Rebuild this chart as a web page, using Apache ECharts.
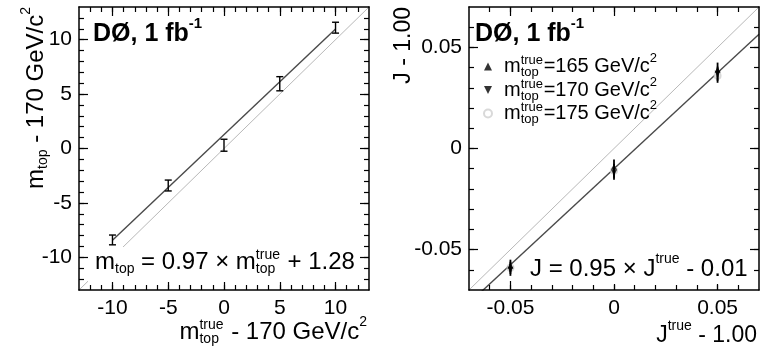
<!DOCTYPE html>
<html><head><meta charset="utf-8">
<script src="https://cdn.jsdelivr.net/npm/echarts@6/dist/echarts.min.js"></script>
<style>html,body{margin:0;padding:0;background:#fff}#c{width:773px;height:353px}</style>
</head><body><div id="c"></div>
<script>
const FONT = '"Liberation Sans", Arial, Helvetica, sans-serif';

// ---- Left panel: m_top calibration ----
const mTrue = [-10, -5, 0, 5, 10];
const mMeas = [-8.4, -3.4, 0.3, 5.95, 11.1];
const mErr = [0.45, 0.5, 0.55, 0.65, 0.5];
const mFitSlope = 0.97, mFitOffset = 1.28;
const mRange = [-13, 13];
const mMajor = [-10, -5, 0, 5, 10];
const mMinor = [-12, -11, -10, -9, -8, -7, -6, -5, -4, -3, -2, -1, 0, 1, 2, 3, 4, 5, 6, 7, 8, 9, 10, 11, 12];

// ---- Right panel: JES calibration ----
const jTrue = [-0.05, 0, 0.05];
const j165 = [-0.058, -0.009, 0.039];
const j170 = [-0.060, -0.012, 0.037];
const j175 = [-0.059, -0.011, 0.036];
const jErr = [0.003, 0.0035, 0.0035];
const jFitSlope = 0.95, jFitOffset = -0.01;
const jRange = [-0.07, 0.07];
const jMajor = [-0.05, 0, 0.05];
const jMinor = [-0.06, -0.05, -0.04, -0.03, -0.02, -0.01, 0, 0.01, 0.02, 0.03, 0.04, 0.05, 0.06];

const LW = 1.5;
function axesFor(gridIndex, dim, range, major, minor, fmt) {
  const isX = dim === 'x';
  const posA = isX ? 'bottom' : 'left', posB = isX ? 'top' : 'right';
  const base = { type: 'value', gridIndex, min: range[0], max: range[1], splitLine: { show: false }, z: 10 };
  const tl = { color: '#000', width: 1.2 };
  return [
    Object.assign({}, base, { position: posA,
      axisLine: { show: true, onZero: false, lineStyle: { color: '#000', width: LW } },
      axisTick: { show: true, inside: true, length: 9, customValues: major, lineStyle: tl },
      axisLabel: { show: true, customValues: major, formatter: fmt, color: '#000', fontSize: 21, fontFamily: FONT, margin: isX ? 8 : 7 } }),
    Object.assign({}, base, { position: posA,
      axisLine: { show: false, onZero: false },
      axisTick: { show: true, inside: true, length: 5, customValues: minor, lineStyle: tl },
      axisLabel: { show: false } }),
    Object.assign({}, base, { position: posB,
      axisLine: { show: true, onZero: false, lineStyle: { color: '#000', width: LW } },
      axisTick: { show: true, inside: true, length: 9, customValues: major, lineStyle: tl },
      axisLabel: { show: false } }),
    Object.assign({}, base, { position: posB,
      axisLine: { show: false, onZero: false },
      axisTick: { show: true, inside: true, length: 5, customValues: minor, lineStyle: tl },
      axisLabel: { show: false } })
  ];
}
const fmtM = v => String(v);
const fmtJ = v => (Math.abs(v) < 1e-9 ? '0' : v.toFixed(2));

function errBars(capHalf, width) {
  return function (params, api) {
    const x = api.value(0), y = api.value(1), e = api.value(2);
    const lo = api.coord([x, y - e]), hi = api.coord([x, y + e]);
    const st = { stroke: '#000', lineWidth: width };
    const ch = [{ type: 'line', shape: { x1: lo[0], y1: lo[1], x2: hi[0], y2: hi[1] }, style: st }];
    if (capHalf > 0) {
      ch.push({ type: 'line', shape: { x1: lo[0] - capHalf, y1: lo[1], x2: lo[0] + capHalf, y2: lo[1] }, style: st });
      ch.push({ type: 'line', shape: { x1: hi[0] - capHalf, y1: hi[1], x2: hi[0] + capHalf, y2: hi[1] }, style: st });
    }
    return { type: 'group', children: ch };
  };
}

function richSet(S, s, L) {
  const f = { fontFamily: FONT, fill: '#000', align: 'left' };
  return {
    n: Object.assign({ fontSize: S, lineHeight: L }, f),
    sub: Object.assign({ fontSize: s, height: s, verticalAlign: 'bottom' }, f),
    st: Object.assign({ fontSize: s, height: s, verticalAlign: 'top', width: 0 }, f),
    sb: Object.assign({ fontSize: s, height: s, verticalAlign: 'bottom', width: Math.round(s * 1.75) }, f),
    sp: Object.assign({ fontSize: s, height: 8, verticalAlign: 'top' }, f),
    b: Object.assign({ fontSize: 25, fontWeight: 'bold', lineHeight: L }, f),
    bs: Object.assign({ fontSize: 15, fontWeight: 'bold', height: 8, verticalAlign: 'top' }, f)
  };
}
const R = richSet(24, 14, 28);
const RJ = richSet(23, 14, 28);

function txt(x, y, text, align, rot, rich) {
  return { type: 'text', x, y, rotation: rot || 0, z: 20, silent: true,
    style: { text, rich: rich || R, textAlign: align, textVerticalAlign: 'middle', fontFamily: FONT, fontSize: 24, fill: '#000' } };
}

const legendRich = {
  g: { width: 7, fontSize: 20, fontFamily: FONT, color: '#000', align: 'left' },
  n: { fontSize: 20, lineHeight: 23, fontFamily: FONT, color: '#000', align: 'left' },
  st: { fontSize: 13, height: 11, verticalAlign: 'top', width: 0, fontFamily: FONT, color: '#000', align: 'left' },
  sb: { fontSize: 13, height: 11, verticalAlign: 'bottom', width: 23, fontFamily: FONT, color: '#000', align: 'left' },
  sp: { fontSize: 13, height: 7, verticalAlign: 'top', fontFamily: FONT, color: '#000', align: 'left' }
};
const legendNames = ['165', '170', '175'];

const chart = echarts.init(document.getElementById('c'), null, { renderer: 'canvas' });
const xAxes = axesFor(0, 'x', mRange, mMajor, mMinor, fmtM).concat(axesFor(1, 'x', jRange, jMajor, jMinor, fmtJ));
const yAxes = axesFor(0, 'y', mRange, mMajor, mMinor, fmtM).concat(axesFor(1, 'y', jRange, jMajor, jMinor, fmtJ));

const mLine = x => mFitSlope * x + mFitOffset;
const jLine = x => jFitSlope * x + jFitOffset;

chart.setOption({
  animation: false,
  backgroundColor: '#fff',
  grid: [
    { left: 79, top: 7, width: 290, height: 283 },
    { left: 469, top: 7, width: 290, height: 283 }
  ],
  xAxis: xAxes,
  yAxis: yAxes,
  legend: {
    orient: 'vertical', left: 478, top: 47, itemGap: -3.5, itemWidth: 8, itemHeight: 8,
    selectedMode: false,
    data: legendNames,
    formatter: n => '{g| }{n|m}{st|true}{sb|top}{n|=' + n + ' GeV/c}{sp|2}',
    textStyle: { rich: legendRich, fontSize: 20, fontFamily: FONT, color: '#000' }
  },
  series: [
    { type: 'line', xAxisIndex: 0, yAxisIndex: 0, silent: true, symbol: 'none', z: 1,
      data: [[mRange[0], mRange[0]], [mRange[1], mRange[1]]], lineStyle: { color: '#b8b8b8', width: 1 } },
    { type: 'line', xAxisIndex: 0, yAxisIndex: 0, silent: true, symbol: 'none', z: 2,
      data: [[mTrue[0], mLine(mTrue[0])], [mTrue[mTrue.length - 1], mLine(mTrue[mTrue.length - 1])]],
      lineStyle: { color: '#4a4a4a', width: 1.4 } },
    { type: 'custom', xAxisIndex: 0, yAxisIndex: 0, z: 3, renderItem: errBars(3.5, 1.4),
      data: mTrue.map((x, i) => [x, mMeas[i], mErr[i]]) },

    { type: 'line', xAxisIndex: 4, yAxisIndex: 4, silent: true, symbol: 'none', z: 1,
      data: [[jRange[0], jRange[0]], [jRange[1], jRange[1]]], lineStyle: { color: '#b8b8b8', width: 1 } },
    { type: 'line', xAxisIndex: 4, yAxisIndex: 4, silent: true, symbol: 'none', z: 2, clip: true,
      data: [[jRange[0], jLine(jRange[0])], [jRange[1], jLine(jRange[1])]],
      lineStyle: { color: '#4a4a4a', width: 1.4 } },
    { name: '175', type: 'scatter', xAxisIndex: 4, yAxisIndex: 4, z: 2, symbol: 'emptyCircle', symbolSize: 6,
      itemStyle: { color: '#d0d0d0', borderColor: '#d0d0d0', borderWidth: 1 }, data: jTrue.map((x, i) => [x, j175[i]]) },
    { type: 'custom', xAxisIndex: 4, yAxisIndex: 4, z: 3, renderItem: errBars(0, 1.8),
      data: jTrue.map((x, i) => [x, j165[i], jErr[i]]) },
    { type: 'custom', xAxisIndex: 4, yAxisIndex: 4, z: 3, renderItem: errBars(0, 1.8),
      data: jTrue.map((x, i) => [x, j170[i], jErr[i]]) },
    { type: 'custom', xAxisIndex: 4, yAxisIndex: 4, z: 3, renderItem: errBars(0, 1.8),
      data: jTrue.map((x, i) => [x, j175[i], jErr[i]]) },
    { name: '165', type: 'scatter', xAxisIndex: 4, yAxisIndex: 4, z: 4, symbol: 'triangle', symbolSize: 6,
      itemStyle: { color: '#000' }, data: jTrue.map((x, i) => [x, j165[i]]) },
    { name: '170', type: 'scatter', xAxisIndex: 4, yAxisIndex: 4, z: 4, symbol: 'path://M0,0L10,0L5,10Z', symbolSize: 6,
      itemStyle: { color: '#000' }, data: jTrue.map((x, i) => [x, j170[i]]) }
  ],
  graphic: { elements: [
    { type: 'rect', z: 15, silent: true, shape: { x: 88, y: 247, width: 271, height: 35 }, style: { fill: '#fff' } },
    { type: 'rect', z: 15, silent: true, shape: { x: 526, y: 253, width: 222, height: 31 }, style: { fill: '#fff' } },
    txt(93, 34, '{b|DØ, 1 fb}{bs|-1}', 'left'),
    txt(475, 34, '{b|DØ, 1 fb}{bs|-1}', 'left'),
    txt(95, 262, '{n|m}{sub|top}{n| = 0.97 × m}{st|true}{sb|top}{n| + 1.28}', 'left'),
    txt(530, 269, '{n|J = 0.95 × J}{sp|true}{n| - 0.01}', 'left'),
    txt(367, 332, '{n|m}{st|true}{sb|top}{n| - 170 GeV/c}{sp|2}', 'right'),
    txt(757, 336, '{n|J}{sp|true}{n| - 1.00}', 'right', 0, RJ),
    txt(36, 7, '{n|m}{sub|top}{n| - 170 GeV/c}{sp|2}', 'right', Math.PI / 2),
    txt(404, 7, '{n|J - 1.00}', 'right', Math.PI / 2, RJ)
  ] }
});
</script></body></html>
